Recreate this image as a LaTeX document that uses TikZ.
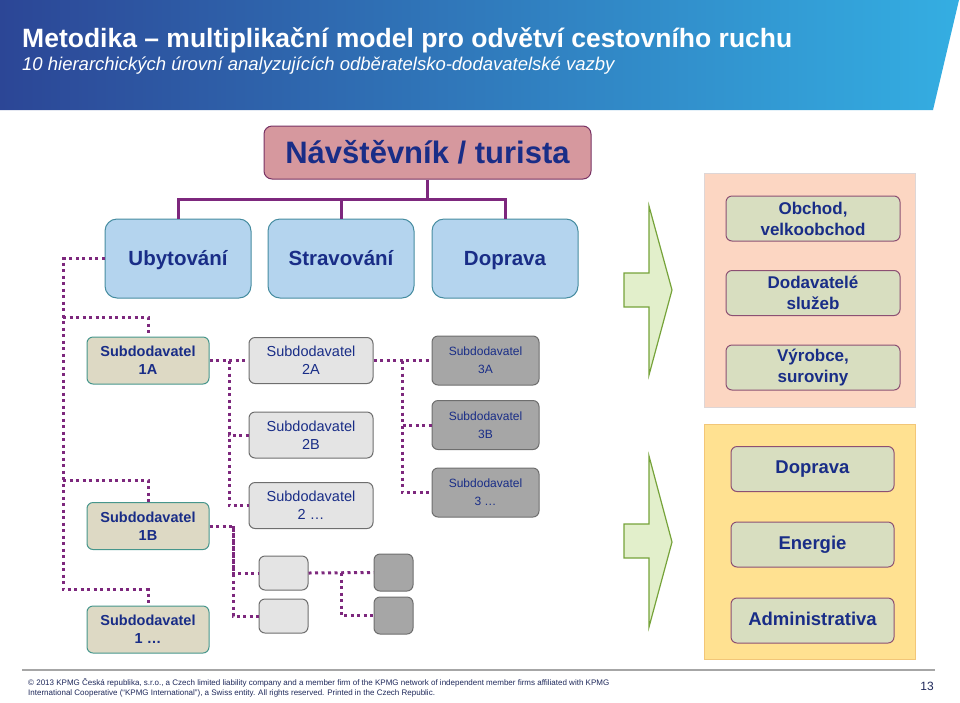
\documentclass[tikz,border=0pt]{standalone}
\usepackage{fontspec}
\setmainfont{Liberation Sans}
\usetikzlibrary{calc}
\definecolor{bannerdark}{RGB}{44,70,150}
\definecolor{bannerlight}{RGB}{52,174,226}
\definecolor{textblue}{RGB}{25,45,135}
\definecolor{footertext}{RGB}{30,40,90}
\definecolor{tourfill}{RGB}{214,152,158}
\definecolor{tourdraw}{RGB}{120,50,100}
\definecolor{sectorfill}{RGB}{180,212,238}
\definecolor{sectordraw}{RGB}{70,140,160}
\definecolor{firstfill}{RGB}{221,217,196}
\definecolor{firstdraw}{RGB}{70,150,140}
\definecolor{secondfill}{RGB}{228,228,228}
\definecolor{thirdfill}{RGB}{166,166,166}
\definecolor{subdraw}{RGB}{110,110,110}
\definecolor{linkpurple}{RGB}{125,40,125}
\definecolor{arrowfill}{RGB}{226,239,203}
\definecolor{arrowdraw}{RGB}{118,163,58}
\definecolor{peachfill}{RGB}{252,214,194}
\definecolor{peachdraw}{RGB}{222,214,214}
\definecolor{yellowfill}{RGB}{255,225,145}
\definecolor{yellowdraw}{RGB}{242,198,120}
\definecolor{itemfill}{RGB}{216,222,192}
\definecolor{itemdraw}{RGB}{140,80,115}

\begin{document}
\begin{tikzpicture}[x=1pt,y=-1pt]

\tikzset{
  box/.style={rounded corners=6pt, line width=1pt, inner sep=0pt,
    align=center, text=textblue},
  tourist/.style={box, fill=tourfill, draw=tourdraw, rounded corners=8pt,
    minimum width=327pt, minimum height=53pt, text height=27pt, text depth=6pt,
    font=\bfseries\fontsize{31}{36}\selectfont},
  sector/.style={box, fill=sectorfill, draw=sectordraw, rounded corners=12pt,
    minimum width=146pt, minimum height=79pt, text height=18pt, text depth=4pt,
    font=\bfseries\fontsize{20.5}{24}\selectfont},
  firstsub/.style={box, fill=firstfill, draw=firstdraw,
    minimum width=122pt, minimum height=47pt,
    font=\bfseries\fontsize{14.5}{18}\selectfont},
  secondsub/.style={box, fill=secondfill, draw=subdraw,
    minimum width=124pt, minimum height=46pt,
    font=\fontsize{14.5}{18}\selectfont},
  thirdsub/.style={box, fill=thirdfill, draw=subdraw,
    minimum width=107pt, minimum height=49pt,
    font=\fontsize{12}{18}\selectfont},
  item/.style={box, fill=itemfill, draw=itemdraw, minimum height=45pt,
    font=\bfseries\fontsize{17}{21}\selectfont},
  itemone/.style={item, text height=13pt, text depth=4pt,
    font=\bfseries\fontsize{18.5}{22}\selectfont},
  treeline/.style={draw=linkpurple, line width=3pt},
  dotline/.style={draw=linkpurple, line width=3pt,
    dash pattern=on 3pt off 3.5pt},
  bigarrow/.style={fill=arrowfill, draw=arrowdraw, line width=1.2pt,
    line join=miter}
}

\useasboundingbox (0,0) rectangle (960,702);

% Header band.
\shade[left color=bannerdark, right color=bannerlight]
  (0,0) -- (959,0) -- (933,110) -- (0,110) -- cycle;
\node[anchor=base west, inner sep=0pt, text=white,
  font=\bfseries\fontsize{26.5}{30}\selectfont] (title) at (22,47)
  {Metodika – multiplikační model pro odvětví cestovního ruchu};
\node[anchor=base west, inner sep=0pt, text=white,
  font=\itshape\fontsize{18.5}{20}\selectfont] (subtitle) at (22,70)
  {10 hierarchických úrovní analyzujících odběratelsko-dodavatelské vazby};

% Visitor and the three sectors.
\node[tourist] (tourist) at (427.5,152.5) {Návštěvník / turista};
\node[sector] (ubyt) at (178,258.5) {Ubytování};
\node[sector] (strav) at (341,258.5) {Stravování};
\node[sector] (doprava) at (505,258.5) {Doprava};

\coordinate (bus) at (0,199);
\draw[treeline] (tourist.south) -- (tourist.south |- bus) -| (ubyt.north);
\draw[treeline] (tourist.south |- bus) -| (doprava.north);
\draw[treeline] (strav.north |- bus) -- (strav.north);

% Suppliers, first level.
\node[firstsub] (sub1a) at (148,360.5) {Subdodavatel\\1A};
\node[firstsub] (sub1b) at (148,526) {Subdodavatel\\1B};
\node[firstsub] (sub1x) at (148,629.5) {Subdodavatel\\1 …};

% Suppliers, second level.
\node[secondsub] (sub2a) at (311,360.5) {Subdodavatel\\2A};
\node[secondsub] (sub2b) at (311,435) {Subdodavatel\\2B};
\node[secondsub] (sub2x) at (311,505.5) {Subdodavatel\\2 …};

% Suppliers, third level.
\node[thirdsub] (sub3a) at (485.5,360.5) {Subdodavatel\\3A};
\node[thirdsub] (sub3b) at (485.5,425) {Subdodavatel\\3B};
\node[thirdsub] (sub3x) at (485.5,492.5) {Subdodavatel\\3 …};

% Empty boxes below.
\node[box, fill=secondfill, draw=subdraw, minimum width=49pt,
  minimum height=34pt] (smalla) at (283.5,573) {};
\node[box, fill=secondfill, draw=subdraw, minimum width=49pt,
  minimum height=34pt] (smallb) at (283.5,616) {};
\node[box, fill=thirdfill, draw=subdraw, minimum width=39pt,
  minimum height=37pt] (darka) at (393.5,572.5) {};
\node[box, fill=thirdfill, draw=subdraw, minimum width=39pt,
  minimum height=37pt] (darkb) at (393.5,615.5) {};

% Dotted supplier links.
\coordinate (spineA) at (63,0);
\coordinate (spineB) at (229,0);
\coordinate (spineC) at (402,0);
\coordinate (spineD) at (233,0);
\coordinate (spineE) at (341,0);

\draw[dotline] (ubyt.west) -- (ubyt.west -| spineA)
  -- ([yshift=16pt]sub1x.north -| spineA) -- ([yshift=16pt]sub1x.north)
  -- (sub1x.north);
\draw[dotline] ([yshift=19pt]sub1a.north -| spineA)
  -- ([yshift=19pt]sub1a.north) -- (sub1a.north);
\draw[dotline] ([yshift=22pt]sub1b.north -| spineA)
  -- ([yshift=22pt]sub1b.north) -- (sub1b.north);

\draw[dotline] (sub1a.east) -- (sub2a.west);
\draw[dotline] (sub1a.east -| spineB) |- (sub2b.west);
\draw[dotline] (sub1a.east -| spineB) |- (sub2x.west);

\draw[dotline] (sub2a.east) -- (sub3a.west);
\draw[dotline] (sub2a.east -| spineC) |- (sub3b.west);
\draw[dotline] (sub2a.east -| spineC) |- (sub3x.west);

\draw[dotline] (sub1b.east) -- (sub1b.east -| spineD) |- (smallb.west);
\draw[dotline] (sub1b.east -| spineD) |- (smalla.west);
\draw[dotline] (smalla.east) -- (darka.west);
\draw[dotline] (smalla.east -| spineE) |- (darkb.west);

% Block arrows.
\draw[bigarrow] (624,273) -- (649,273) -- (649,206) -- (672,290)
  -- (649,375) -- (649,307) -- (624,307) -- cycle;
\draw[bigarrow] (624,524) -- (649,524) -- (649,456) -- (672,542)
  -- (649,627) -- (649,558) -- (624,558) -- cycle;

% Upper panel.
\filldraw[fill=peachfill, draw=peachdraw, line width=0.8pt]
  (704,173) rectangle (915,407);
\node[item, minimum width=174pt] (obchod) at (813,218.5) {Obchod,\\velkoobchod};
\node[item, minimum width=174pt] (sluzby) at (813,293) {Dodavatelé\\služeb};
\node[item, minimum width=174pt] (vyroba) at (813,367.5) {Výrobce,\\suroviny};

% Lower panel.
\filldraw[fill=yellowfill, draw=yellowdraw, line width=0.8pt]
  (704,424) rectangle (915,659);
\node[itemone, minimum width=163pt] (doprava2) at (812.5,469) {Doprava};
\node[itemone, minimum width=163pt] (energie) at (812.5,544.5) {Energie};
\node[itemone, minimum width=163pt] (admin) at (812.5,620.5) {Administrativa};

% Footer.
\draw[gray!70, line width=1.2pt] (22,670) -- (935,670);
\node[anchor=north west, inner sep=0pt, align=left, text=footertext,
  font=\fontsize{8}{10.5}\selectfont] (footer) at (28,678)
  {© 2013 KPMG Česká republika, s.r.o., a Czech limited liability company and a member firm of the KPMG network of independent member firms affiliated with KPMG\\
   International Cooperative (“KPMG International”), a Swiss entity. All rights reserved. Printed in the Czech Republic.};
\node[anchor=base east, inner sep=0pt, text=footertext,
  font=\fontsize{12}{14}\selectfont] (pageno) at (934,690) {13};

\end{tikzpicture}
\end{document}
